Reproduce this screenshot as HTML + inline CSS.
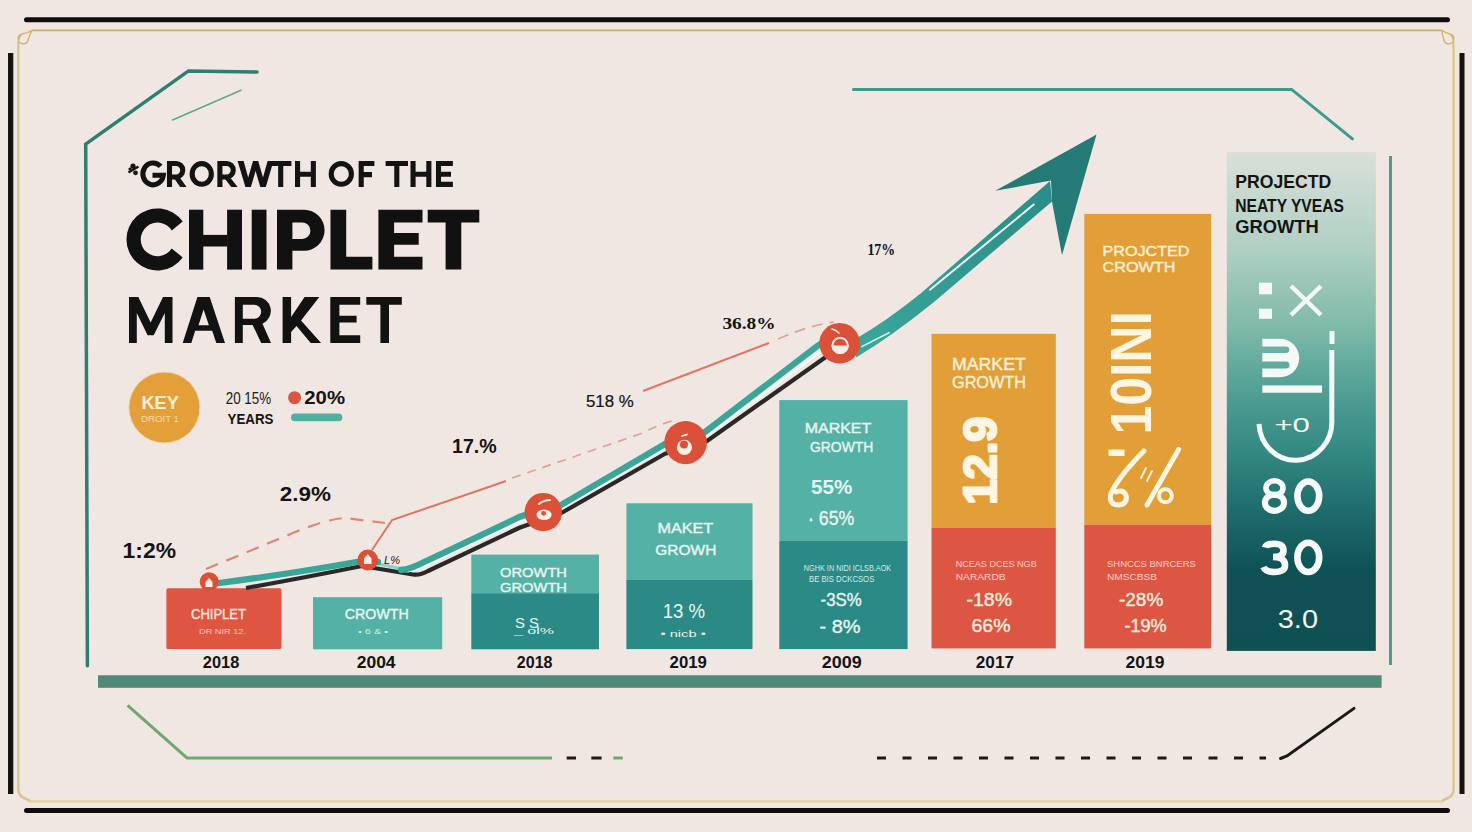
<!DOCTYPE html>
<html><head><meta charset="utf-8">
<style>
html,body{margin:0;padding:0;background:#F0E7E3;}
body{width:1472px;height:832px;overflow:hidden;position:relative;}
svg{position:absolute;left:0;top:0;}
text{font-family:"Liberation Sans",sans-serif;}
.b{font-weight:bold;}
.serif{font-family:"Liberation Serif",serif;}
</style></head>
<body>
<svg width="1472" height="832" viewBox="0 0 1472 832">
<defs>
<linearGradient id="pg" x1="0" y1="0" x2="0" y2="1">
<stop offset="0" stop-color="#D6E0D8"/>
<stop offset="0.036" stop-color="#D1DDD5"/>
<stop offset="0.196" stop-color="#AFCFC3"/>
<stop offset="0.277" stop-color="#96C4B4"/>
<stop offset="0.357" stop-color="#7DB8A8"/>
<stop offset="0.437" stop-color="#5EA89B"/>
<stop offset="0.517" stop-color="#48988E"/>
<stop offset="0.597" stop-color="#348A82"/>
<stop offset="0.717" stop-color="#1F6C6C"/>
<stop offset="0.838" stop-color="#0F5256"/>
<stop offset="1" stop-color="#0F5052"/>
</linearGradient>
<linearGradient id="sg" gradientUnits="userSpaceOnUse" x1="860" y1="350" x2="1050" y2="190">
<stop offset="0" stop-color="#3AA698"/>
<stop offset="1" stop-color="#2B8D88"/>
</linearGradient>
</defs>
<rect width="1472" height="832" fill="#F0E7E3"/>

<!-- FRAME -->
<rect x="24" y="17.2" width="1426" height="5.1" rx="2.5" fill="#0F0E0C"/>
<rect x="24" y="808" width="1426" height="5" rx="2.5" fill="#0F0E0C"/>
<rect x="8" y="53" width="5.3" height="741" fill="#141311"/>
<rect x="1459.5" y="53" width="5" height="741" fill="#141311"/>
<line x1="32" y1="30.3" x2="1442" y2="30.3" stroke="#C4B27A" stroke-width="2"/>
<line x1="32" y1="28.8" x2="1442" y2="28.8" stroke="#F6EAD0" stroke-width="1"/>
<line x1="30" y1="801.5" x2="1442" y2="801.5" stroke="#E2D7A6" stroke-width="2.6"/>
<line x1="18.3" y1="45" x2="18.3" y2="790" stroke="#D8C68E" stroke-width="2.4"/>
<line x1="1453.5" y1="45" x2="1453.5" y2="790" stroke="#D8C68E" stroke-width="2.4"/>
<path d="M32,30.3 Q28,33 22,34 Q18,38 18.3,45 M22,34 A5,5 0 1 0 28,40 Q30,35 32,30.3" fill="none" stroke="#D2B870" stroke-width="1.5"/>
<path d="M1442,30.3 Q1446,33 1450,34 Q1454,38 1453.5,45 M1450,34 A5,5 0 1 1 1444,40 Q1442,35 1442,30.3" fill="none" stroke="#D2B870" stroke-width="1.5"/>
<path d="M18.3,790 Q19,796 24,798 Q29,800 30,801.5" fill="none" stroke="#D8C68E" stroke-width="2.6"/>
<path d="M1453.5,790 Q1453,796 1448,798 Q1443,800 1442,801.5" fill="none" stroke="#D8C68E" stroke-width="2.6"/>

<!-- DECO LINES -->
<polyline points="87.4,665.7 85.7,144.2 188.5,70.9 257,72" fill="none" stroke="#2F7E6F" stroke-width="3.5" stroke-linejoin="miter" stroke-linecap="round"/>
<line x1="172" y1="120.3" x2="241.6" y2="90" stroke="#5CA88B" stroke-width="1.5"/>
<polyline points="853.4,89.4 1291.6,89.4 1352.4,138.9" fill="none" stroke="#3F9A89" stroke-width="3" stroke-linecap="round"/>
<rect x="1389" y="156" width="3" height="509" fill="#4F9B8F"/>
<polyline points="127.6,705.4 187,757.9 552,757.9" fill="none" stroke="#6EAA70" stroke-width="3"/>
<line x1="566.7" y1="758" x2="576" y2="758" stroke="#1A1A1A" stroke-width="3"/>
<line x1="591.3" y1="758" x2="601.6" y2="758" stroke="#1A1A1A" stroke-width="3"/>
<line x1="613.3" y1="758" x2="622.8" y2="758" stroke="#6EAA70" stroke-width="3"/>
<line x1="877" y1="758" x2="1266" y2="758" stroke="#1A1A1A" stroke-width="3" stroke-dasharray="9 16.5"/>
<polyline points="1280.5,758.5 1287,756 1354,708.4" fill="none" stroke="#1A1A1A" stroke-width="3" stroke-linecap="round"/>

<!-- BOTTOM BAR -->
<rect x="98" y="675.3" width="1283.6" height="12.5" fill="#4F8A78"/>

<!-- TITLE -->
<g fill="none" stroke="#131313" stroke-width="5.1" stroke-linejoin="miter" stroke-miterlimit="6">
<path d="M160.6,166.4 A10.25,10.9 0 1 0 163.3,175.2 L152.5,175.2"/>
<path d="M169.5,186.9 V163.45 H176 A6.75,6.75 0 0 1 176,176.95 H169.5"/>
<path d="M173.2,176.9 H179.4 L186.6,186.9 H180.2 Z" fill="#131313" stroke="none"/>
<ellipse cx="201.75" cy="173.9" rx="9.6" ry="10.3"/>
<path d="M219.9,186.9 V163.45 H226.5 A6.75,6.75 0 0 1 226.5,176.95 H219.9"/>
<path d="M223.6,176.9 H229.8 L237.6,186.9 H231.2 Z" fill="#131313" stroke="none"/>
<path d="M237.6,160.9 H243.6 L248.2,177.5 L253,160.9 H258.2 L263,177.5 L267.6,160.9 H273.5 L265.8,186.9 H260.3 L255.6,171 L250.9,186.9 H245.4 Z" fill="#131313" stroke="none"/>
<path d="M270,163.45 H291.4 M280.7,163.45 V186.9"/>
<path d="M297.55,160.9 V186.9 M313.35,160.9 V186.9 M297.55,174.2 H313.35"/>
<ellipse cx="341.3" cy="173.9" rx="10.1" ry="10.3"/>
<path d="M361.2,186.9 V163.45 H374.4 M361.45,174.6 H372"/>
<path d="M385.6,163.45 H408 M396.8,163.45 V186.9"/>
<path d="M413.05,160.9 V186.9 M428.85,160.9 V186.9 M413.05,174.2 H428.85"/>
<path d="M452.9,163.45 H438.5 V184.35 H452.9 M438.5,174.2 H451"/>
</g>
<g fill="#141414"><path d="M128.5,172.5 L138.5,166.5" stroke="#141414" stroke-width="2.2"/><circle cx="133" cy="166.2" r="2.6"/><circle cx="135.5" cy="172.8" r="2.4"/><circle cx="130" cy="169" r="1.6"/></g>
<g fill="#111111">
<path d="M182.7,221.4 A31,31 0 1 0 182.7,257.4 L171.7,248.4 A16.8,16.8 0 1 1 171.7,230.4 Z"/>
<rect x="189" y="209.7" width="14.3" height="59.9"/>
<rect x="227.1" y="209.7" width="14.9" height="59.9"/>
<rect x="203" y="234.9" width="24.5" height="11.6"/>
<rect x="251.7" y="209.7" width="14.8" height="59.9"/>
<path fill-rule="evenodd" d="M277,269.6 V209.7 H304.05 A20.55,20.55 0 0 1 304.05,250.8 H292.4 V269.6 Z M292.4,222.4 H302.15 A8.25,8.25 0 0 1 302.15,238.9 H292.4 Z"/>
<path d="M330.5,209.7 H346.2 V256.8 H372.4 V269.6 H330.5 Z"/>
<path d="M378.4,209.7 H422.5 V222.4 H394.1 V232.9 H418.7 V244.8 H394.1 V256.8 H422.5 V269.6 H378.4 Z"/>
<path d="M427.7,209.7 H479.3 V222.4 H461.3 V269.6 H445.6 V222.4 H427.7 Z"/>
</g>
<g fill="#121212">
<path d="M129,343.1 V296.9 H138.3 L150.65,322.5 L163,296.9 H172.5 V343.1 H164.8 V313 L153.7,335.3 H147.6 L136.8,313 V343.1 Z"/>
<path fill-rule="evenodd" d="M182.7,343.1 L197.4,296.9 H209.7 L225,343.1 H216.3 L212.2,330.8 H195.2 L191.3,343.1 Z M203.6,309.4 L208.9,325.2 H198.5 Z"/>
<path fill-rule="evenodd" d="M234.9,343.1 V296.9 H256.9 A14,14 0 0 1 262.5,323.7 L271,343.1 H261.2 L252.6,324.9 H242.8 V343.1 Z M242.8,304.7 H254.2 A7,7 0 0 1 254.2,318.7 H242.8 Z"/>
<path d="M282.6,343.1 V296.9 H291.1 V317 L304.6,296.9 H319.3 L301,320.5 L321.1,343.1 H310.7 L296.5,326 L291.1,332 V343.1 Z"/>
<path d="M330.3,296.9 H360.2 V304.7 H339.4 V315.7 H356.6 V322.4 H339.4 V335.2 H360.2 V343.1 H330.3 Z"/>
<path d="M366.3,296.9 H401.8 V304.7 H389 V343.1 H380.4 V304.7 H366.3 Z"/>
</g>

<!-- KEY -->
<circle cx="164.4" cy="407.5" r="35.5" fill="#E3A03A" stroke="#F3D2A0" stroke-width="1"/>
<text class="b" x="141.4" y="409.2" font-size="17.5" textLength="37.5" lengthAdjust="spacingAndGlyphs" fill="#FBF0D2">KEY</text>
<text x="141" y="422.4" font-size="9.5" textLength="38" lengthAdjust="spacingAndGlyphs" fill="#F4D9A6">DROIT 1</text>
<text x="225.7" y="404.2" font-size="17" textLength="45.4" lengthAdjust="spacingAndGlyphs" fill="#1A1A1A">20 15%</text>
<text class="b" x="227.5" y="423.7" font-size="14.5" textLength="45.9" lengthAdjust="spacingAndGlyphs" fill="#141414">YEARS</text>
<circle cx="294.6" cy="397.7" r="6.5" fill="#DD5440"/>
<text class="b" x="304.3" y="404.2" font-size="18" textLength="40.7" lengthAdjust="spacingAndGlyphs" fill="#141414">20%</text>
<rect x="291" y="413.6" width="51.3" height="7.6" rx="3.8" fill="#52AFA0"/>

<!-- PERCENT LABELS -->
<text class="b" x="122.6" y="558.3" font-size="21.5" textLength="53.4" lengthAdjust="spacingAndGlyphs" fill="#141414">1:2%</text>
<text class="b" x="279.8" y="501.2" font-size="21" textLength="51.2" lengthAdjust="spacingAndGlyphs" fill="#141414">2.9%</text>
<text class="b" x="452" y="452.8" font-size="20" textLength="44.7" lengthAdjust="spacingAndGlyphs" fill="#141414">17.%</text>
<text x="585.9" y="406.5" font-size="17" textLength="47.8" lengthAdjust="spacingAndGlyphs" fill="#141414" stroke="#141414" stroke-width="0.2">518 %</text>
<text class="serif b" x="722.4" y="328.7" font-size="16.5" textLength="53.2" lengthAdjust="spacingAndGlyphs" fill="#141414">36.8%</text>
<text class="serif b" x="867.4" y="254.8" font-size="17" textLength="27.8" lengthAdjust="spacingAndGlyphs" fill="#141414">17%</text>

<!-- BOXES -->
<g id="boxes">
<rect x="166.4" y="588.3" width="115" height="60.6" rx="1.5" fill="#DE5642"/>
<text x="191" y="619" font-size="15" textLength="55" lengthAdjust="spacingAndGlyphs" fill="#FBE6DA" stroke="#FBE6DA" stroke-width="0.4">CHIPLET</text>
<text x="199" y="633.5" font-size="8" textLength="47" lengthAdjust="spacingAndGlyphs" fill="#F3C3B5">DR NIR 12.</text>

<rect x="313" y="597.2" width="129.2" height="52.1" fill="#54B1A5"/>
<text x="344.8" y="618.9" font-size="14.5" textLength="64" lengthAdjust="spacingAndGlyphs" fill="#E8F6F2" stroke="#E8F6F2" stroke-width="0.4">CROWTH</text>
<text x="358" y="634" font-size="8" textLength="30" lengthAdjust="spacingAndGlyphs" fill="#D5EEE8">• 6 &amp; •</text>

<rect x="471.3" y="554.6" width="127.7" height="38.6" fill="#54B1A5"/>
<rect x="471.3" y="593.2" width="127.7" height="56.1" fill="#2B8A85"/>
<text x="500" y="576.6" font-size="13" textLength="67" lengthAdjust="spacingAndGlyphs" fill="#E5F5F1" stroke="#E5F5F1" stroke-width="0.4">OROWTH</text>
<text x="500" y="591.6" font-size="13" textLength="67" lengthAdjust="spacingAndGlyphs" fill="#E5F5F1" stroke="#E5F5F1" stroke-width="0.4">GROWTH</text>
<text x="515" y="628" font-size="14" textLength="24" lengthAdjust="spacingAndGlyphs" fill="#E5F5F1">S S</text>
<text x="514" y="634" font-size="9" textLength="40" lengthAdjust="spacingAndGlyphs" fill="#E5F5F1">_ ol%</text>

<rect x="626.4" y="503.3" width="126.1" height="76.2" fill="#54B1A5"/>
<rect x="626.4" y="579.5" width="126.1" height="69.6" fill="#2B8A85"/>
<text x="657.4" y="533.2" font-size="14" textLength="55.8" lengthAdjust="spacingAndGlyphs" fill="#E5F5F1" stroke="#E5F5F1" stroke-width="0.4">MAKET</text>
<text x="655.3" y="554.7" font-size="14" textLength="61.1" lengthAdjust="spacingAndGlyphs" fill="#E5F5F1" stroke="#E5F5F1" stroke-width="0.4">GROWH</text>
<text x="662.7" y="617.5" font-size="21" textLength="42.5" lengthAdjust="spacingAndGlyphs" fill="#E5F5F1">13 %</text>
<text x="660.5" y="636.9" font-size="9.5" textLength="45.3" lengthAdjust="spacingAndGlyphs" fill="#E5F5F1">•  nicb •</text>

<rect x="779.3" y="400.1" width="128.3" height="140.5" fill="#54B1A5"/>
<rect x="779.3" y="540.6" width="128.3" height="108.5" fill="#2B8A85"/>
<text x="804.8" y="433.2" font-size="15" textLength="66.4" lengthAdjust="spacingAndGlyphs" fill="#E5F5F1" stroke="#E5F5F1" stroke-width="0.4">MARKET</text>
<text x="810" y="451.5" font-size="15" textLength="63.3" lengthAdjust="spacingAndGlyphs" fill="#E5F5F1" stroke="#E5F5F1" stroke-width="0.4">GROWTH</text>
<text class="b" x="811" y="494.3" font-size="19.5" textLength="41.2" lengthAdjust="spacingAndGlyphs" fill="#E5F5F1">55%</text>
<text x="808" y="524.8" font-size="19.5" textLength="46.3" lengthAdjust="spacingAndGlyphs" fill="#E5F5F1" stroke="#E5F5F1" stroke-width="0.4">· 65%</text>
<text x="803.8" y="571.2" font-size="9" textLength="87.4" lengthAdjust="spacingAndGlyphs" fill="#D2ECE7">NGHK IN NIDI ICLSB.AOK</text>
<text x="809" y="582.1" font-size="9" textLength="65.3" lengthAdjust="spacingAndGlyphs" fill="#D2ECE7">BE BIS  DCKCSOS</text>
<text x="820.6" y="605.7" font-size="18" textLength="41.1" lengthAdjust="spacingAndGlyphs" fill="#E5F5F1" stroke="#E5F5F1" stroke-width="0.4">-3S%</text>
<text x="819.6" y="633.3" font-size="19" textLength="41" lengthAdjust="spacingAndGlyphs" fill="#E5F5F1" stroke="#E5F5F1" stroke-width="0.4">- 8%</text>

<rect x="931.5" y="333.8" width="124.3" height="194.2" fill="#E39F37"/>
<rect x="931.5" y="528" width="124.3" height="120.4" fill="#DD5643"/>
<text x="952" y="370.4" font-size="17" textLength="73.8" lengthAdjust="spacingAndGlyphs" fill="#FCF0D5" stroke="#FCF0D5" stroke-width="0.4">MARKET</text>
<text x="952" y="388.4" font-size="17" textLength="74" lengthAdjust="spacingAndGlyphs" fill="#FCF0D5" stroke="#FCF0D5" stroke-width="0.4">GROWTH</text>
<text class="b" transform="translate(995.5,505.5) rotate(-90)" x="1" y="0" font-size="47" textLength="88" lengthAdjust="spacingAndGlyphs" fill="#FEF5E2" stroke="#FEF5E2" stroke-width="2.6" stroke-linejoin="round">12.9</text>
<text x="955.7" y="566.7" font-size="9" textLength="81" lengthAdjust="spacingAndGlyphs" fill="#F6CFC2">NCEAS DCES NGB</text>
<text x="955.7" y="580.3" font-size="9" textLength="50" lengthAdjust="spacingAndGlyphs" fill="#F6CFC2">NARARDB</text>
<text x="966.5" y="606.3" font-size="17.5" textLength="45.5" lengthAdjust="spacingAndGlyphs" fill="#FCEBDD" stroke="#FCEBDD" stroke-width="0.4">-18%</text>
<text x="971.5" y="632.2" font-size="18.5" textLength="39" lengthAdjust="spacingAndGlyphs" fill="#FCEBDD" stroke="#FCEBDD" stroke-width="0.4">66%</text>

<rect x="1084.3" y="213.9" width="126.9" height="310.8" fill="#E39F37"/>
<rect x="1084.3" y="524.7" width="126.9" height="123.7" fill="#DD5643"/>
<text x="1102.5" y="255.6" font-size="15" textLength="86.9" lengthAdjust="spacingAndGlyphs" fill="#FCF0D5" stroke="#FCF0D5" stroke-width="0.4">PROJCTED</text>
<text x="1102.5" y="272" font-size="15" textLength="73" lengthAdjust="spacingAndGlyphs" fill="#FCF0D5" stroke="#FCF0D5" stroke-width="0.4">CROWTH</text>
<text class="b" transform="translate(1150.8,434.6) rotate(-90)" x="0" y="0" font-size="58" textLength="123.6" lengthAdjust="spacingAndGlyphs" fill="#FEF5E2">10INI</text>
<g fill="none" stroke="#FEF5E2" stroke-linecap="round">
<rect x="1108.5" y="449.5" width="16" height="6.5" fill="#FEF5E2" stroke="none"/>
<path d="M1144,451 Q1120,475 1111,493 Q1108,505 1119,505 Q1128,504 1126,495 Q1123,489 1116,492" stroke-width="5"/>
<path d="M1178.6,449.4 L1147,505" stroke-width="5"/>
<circle cx="1165.4" cy="495.7" r="6.5" stroke-width="4"/>
<path d="M1141,478 L1146,468 M1147,481 L1152,471" stroke-width="1.8"/>
</g>
<text x="1107" y="566.7" font-size="9" textLength="88.8" lengthAdjust="spacingAndGlyphs" fill="#F6CFC2">SHNCCS BNRCERS</text>
<text x="1107" y="580.3" font-size="9" textLength="50" lengthAdjust="spacingAndGlyphs" fill="#F6CFC2">NMSCBSB</text>
<text x="1119" y="606.3" font-size="17.5" textLength="44.3" lengthAdjust="spacingAndGlyphs" fill="#FCEBDD" stroke="#FCEBDD" stroke-width="0.4">-28%</text>
<text x="1124.4" y="632.2" font-size="18.5" textLength="42.2" lengthAdjust="spacingAndGlyphs" fill="#FCEBDD" stroke="#FCEBDD" stroke-width="0.4">-19%</text>

<rect x="1226.8" y="152.1" width="149" height="498.8" fill="url(#pg)"/>
<text class="b" x="1235.2" y="188.4" font-size="18.5" textLength="96" lengthAdjust="spacingAndGlyphs" fill="#141414">PROJECTD</text>
<text class="b" x="1235.2" y="212" font-size="18.5" textLength="108.8" lengthAdjust="spacingAndGlyphs" fill="#141414">NEATY YVEAS</text>
<text class="b" x="1235.2" y="232.8" font-size="18.5" textLength="83.6" lengthAdjust="spacingAndGlyphs" fill="#141414">GROWTH</text>
<rect x="1259" y="282.7" width="13" height="11.6" fill="#F4F8F6"/>
<rect x="1259" y="308.7" width="13" height="10.1" fill="#F4F8F6"/>
<path d="M1291,286 L1321,315 M1321,286 L1291,315" stroke="#F4F8F6" stroke-width="4.5" fill="none"/>
<path d="M1262.3,338.8 H1280 A19.25,19.25 0 0 1 1280,377.3 H1262.3 V368.5 H1286 A3.5,3.5 0 0 0 1286,361.5 H1262.3 V353 H1286 A3.25,3.25 0 0 0 1286,346.5 H1262.3 Z" fill="#F4F8F6"/>
<rect x="1262.3" y="385.4" width="59.7" height="7.3" fill="#F4F8F6"/>
<rect x="1329.5" y="331" width="5" height="13" fill="#F4F8F6"/>
<path d="M1331.8,350 V420 A36,38 0 0 1 1259,423.8" stroke="#F4F8F6" stroke-width="5" fill="none"/>
<text x="1274.4" y="431.5" font-size="21" textLength="35.6" lengthAdjust="spacingAndGlyphs" fill="#F4F8F6">+0</text>
<g fill="none" stroke="#F4F8F6" stroke-width="6.6">
<ellipse cx="1274.5" cy="487.9" rx="8.5" ry="7.2" stroke-width="5.6"/>
<ellipse cx="1274.5" cy="502.7" rx="9.6" ry="8.1" stroke-width="6.2"/>
<ellipse cx="1308.3" cy="496.1" rx="10.9" ry="14.6"/>
<path d="M1265,547.5 Q1266,543.8 1274.5,543.8 Q1283.5,543.8 1283.5,550.5 Q1283.5,557 1273,557 Q1284.5,557 1285,564.5 Q1285.5,572 1274.5,572 Q1265.5,572 1263.5,567"/>
<ellipse cx="1308.3" cy="557.4" rx="10.9" ry="14.6"/>
</g>
<text x="1277.8" y="627.8" font-size="26" textLength="40.2" lengthAdjust="spacingAndGlyphs" fill="#F4F8F6">3.0</text>
</g>

<!-- YEARS -->
<g class="b" font-size="16.3" fill="#141414">
<text class="b" x="202.8" y="667.7" textLength="36.5" lengthAdjust="spacingAndGlyphs">2018</text>
<text class="b" x="356.7" y="667.8" textLength="38.9" lengthAdjust="spacingAndGlyphs">2004</text>
<text class="b" x="516.8" y="667.8" textLength="35.7" lengthAdjust="spacingAndGlyphs">2018</text>
<text class="b" x="669.6" y="668.1" textLength="37.3" lengthAdjust="spacingAndGlyphs">2019</text>
<text class="b" x="821.7" y="668.1" textLength="40" lengthAdjust="spacingAndGlyphs">2009</text>
<text class="b" x="975.8" y="668" textLength="38.2" lengthAdjust="spacingAndGlyphs">2017</text>
<text class="b" x="1125.5" y="668" textLength="38.9" lengthAdjust="spacingAndGlyphs">2019</text>
</g>

<!-- RED TREND LINE -->
<g fill="none" stroke-linecap="butt">
<path d="M206,569 L286,536 Q325,519 345,518 L385,523" stroke="#E08577" stroke-width="2.2" stroke-dasharray="13 9"/>
<path d="M372,550 L392,520 L480,490 L506,481" stroke="#E07464" stroke-width="2"/>
<path d="M512,478 L640,434 Q662,423 676,420" stroke="#E3A095" stroke-width="1.7" stroke-dasharray="9 7"/>
<path d="M643,391 L769,343" stroke="#E07464" stroke-width="2"/>
<path d="M778,339 Q810,325 834,322" stroke="#E3A095" stroke-width="1.7" stroke-dasharray="11 7"/>
</g>

<!-- TEAL TREND LINE -->
<path d="M246,588 Q300,578.5 362,566 L413,574.5 Q420,575.5 428,571 L520,527.5 L560,513.8 L665,453.7 L707,441 L830,354" fill="none" stroke="#2B2928" stroke-width="4.2" stroke-linejoin="round"/>
<path d="M404,571 Q412,572.5 420,568 L520,521.7 L560,509.8 L665,448.7 L706,436.5 L824,349.5" fill="none" stroke="#F4FAF8" stroke-width="2" stroke-linejoin="round"/>
<path d="M378,564 L406,569.5" fill="none" stroke="#8ED2C6" stroke-width="3"/>
<path d="M212,584 Q290,574 362,561 L378,562 M401,570 Q410,569 420,564 L520,516.7 Q545,508 560,505.6 L665,444 Q685,436 705,432 L818,345.5 L845,327" fill="none" stroke="#3AA698" stroke-width="6.3" stroke-linejoin="round" stroke-linecap="round"/>
<!-- shaft -->
<path d="M857,338 Q885,322 920,294 L1050,181 L1052,201.5 L934,302 Q892,336 856,357.5 Z" fill="url(#sg)"/>
<line x1="930" y1="289.7" x2="1033.7" y2="204.6" stroke="#E6F6F2" stroke-width="2" stroke-linecap="round"/>
<line x1="861.8" y1="346.6" x2="889" y2="332.7" stroke="#D5F0EA" stroke-width="1.6" stroke-linecap="round"/>
<!-- arrow head -->
<polygon points="1096.5,134.6 995.2,190.8 1051,180.6 1052,201.7 1062,255.2" fill="#237A77"/>

<!-- MARKERS -->
<g fill="#DB5039">
<circle cx="209.2" cy="581.8" r="9.5"/>
<circle cx="367.8" cy="560" r="10.4"/>
<ellipse cx="543.3" cy="512.1" rx="18.7" ry="19.2"/>
<ellipse cx="685.6" cy="442.6" rx="21.3" ry="21.6"/>
<circle cx="839.6" cy="343.3" r="20.3"/>
</g>
<g fill="#FBEDE4">
<path d="M205.5,587 L205.5,582 L209,578 L212.5,582 L212.5,587 Z"/>
<path d="M364,564 L364,558.5 L367.8,554 L371.5,558.5 L371.5,564 Z"/>
<ellipse cx="544.1" cy="514.8" rx="7.6" ry="5.3"/>
<circle cx="684.4" cy="447.4" r="7.6"/>
<path d="M831.5,345.4 A8.6,8.6 0 0 0 848.7,345.4 Z"/>
</g>
<g fill="#DB5039">
<circle cx="543.6" cy="513.3" r="2.4"/>
<circle cx="684" cy="444.5" r="4"/>
</g>
<g fill="none" stroke="#FBEDE4" stroke-linecap="round">
<path d="M539,504 Q544,500 550,500" stroke-width="2"/>
<path d="M682,436 L687,434.5" stroke-width="1.8"/>
<circle cx="840.1" cy="345.4" r="7.6" stroke-width="2"/>
<path d="M832,329 Q836,330 839,333" stroke-width="1.6"/>
</g>
<text x="384" y="564" font-size="11" font-style="italic" fill="#222" textLength="16" lengthAdjust="spacingAndGlyphs">L%</text>

</svg>
</body></html>
